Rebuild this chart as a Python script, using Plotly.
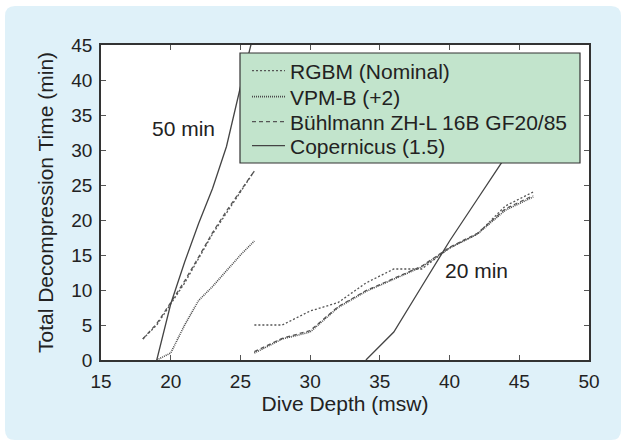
import plotly.graph_objects as go

# ---------------- data ----------------
depth_50 = [18, 19, 20, 21, 22, 23, 24, 25, 26]
depth_20 = [26, 28, 30, 32, 34, 36, 38, 40, 42, 44, 46]

rgbm_50 = [3, 5, 8, 11, 14.5, 18, 21, 24, 27]
vpmb_50 = [None, 0, 1, 5, 8.5, 10.5, 12.7, 15, 17]
buhl_50 = [3, 5.2, 8.2, 11.3, 14.7, 18.2, 21.3, 24.2, 27]
cop_50 = [None, 0, 8, 14, 19.5, 24.5, 30.5, 39, 47]

rgbm_20 = [5, 5, 7, 8.2, 11, 13, 13, 16, 18, 22, 24]
vpmb_20 = [1, 3, 4, 7.5, 9.8, 11.5, 13.3, 16, 18, 21.4, 23.3]
buhl_20 = [1.2, 3.1, 4.2, 7.6, 9.9, 11.6, 13.4, 16.1, 18.1, 21.6, 23.5]
cop_20 = [None, None, None, None, 0, 4, 10.5, 17, 23, 29, 35]

series_names = ["RGBM (Nominal)", "VPM-B (+2)", "Bühlmann ZH-L 16B GF20/85", "Copernicus (1.5)"]
x_ticks = [15, 20, 25, 30, 35, 40, 45, 50]
y_ticks = [0, 5, 10, 15, 20, 25, 30, 35, 40, 45]

labels = ["50 min", "20 min"]
label_x = [20.9, 41.9]
label_y = [33.1, 12.8]

# ---------------- figure ----------------
W, H = 626, 445
ML, MR, MT, MB = 101, 37, 45, 85
PW, PH = W - ML - MR, H - MT - MB

def px2paper_x(px):
    return (px - ML) / PW

def px2paper_y(py):
    return (H - MB - py) / PH

fig = go.Figure()

styles = [
    dict(color="#555555", width=1.3, dash="2px,2px"),
    dict(color="#4a4a4a", width=1.6, dash="1px,1px"),
    dict(color="#555555", width=1.3, dash="4px,3px"),
    dict(color="#444444", width=1.3, dash="solid"),
]
pairs = [(rgbm_50, rgbm_20), (vpmb_50, vpmb_20), (buhl_50, buhl_20), (cop_50, cop_20)]
legend_ids = ["legend", "legend2", "legend3", "legend4"]
legend_centers_px = [71, 97, 122, 146]

for name, (a, b), st, lid in zip(series_names, pairs, styles, legend_ids):
    xs = depth_50 + [None] + depth_20
    ys = a + [None] + b
    fig.add_trace(go.Scatter(
        x=xs, y=ys, mode="lines", name=name, line=st,
        connectgaps=False, legend=lid,
    ))

for t, x, y in zip(labels, label_x, label_y):
    fig.add_annotation(x=x, y=y, text=t, showarrow=False,
                       font=dict(size=21, color="#222222"))

# panel with rounded corners
x0, x1 = px2paper_x(5), px2paper_x(621)
y0, y1 = px2paper_y(440), px2paper_y(6)
rx, ry = 10 / PW, 10 / PH
path = (f"M {x0+rx},{y1} L {x1-rx},{y1} Q {x1},{y1} {x1},{y1-ry} "
        f"L {x1},{y0+ry} Q {x1},{y0} {x1-rx},{y0} L {x0+rx},{y0} "
        f"Q {x0},{y0} {x0},{y0+ry} L {x0},{y1-ry} Q {x0},{y1} {x0+rx},{y1} Z")
fig.add_shape(type="path", path=path, xref="paper", yref="paper",
              fillcolor="#dff1f9", line=dict(width=0), layer="below")
fig.add_shape(type="rect", xref="paper", yref="paper", x0=0, x1=1, y0=0, y1=1,
              fillcolor="white", line=dict(width=0), layer="below")

# legend box
fig.add_shape(type="rect", xref="paper", yref="paper",
              x0=px2paper_x(240), x1=px2paper_x(580),
              y0=px2paper_y(163), y1=px2paper_y(53),
              fillcolor="#c2e4cc", line=dict(color="#333333", width=1.2),
              layer="above")

axis_common = dict(
    showgrid=False, zeroline=False, showline=True, linecolor="#333333",
    linewidth=1.5, mirror="ticks", ticks="inside", ticklen=5,
    tickcolor="#555555", tickfont=dict(size=19, color="#222222"),
    ticklabelstandoff=3,
)

fig.update_xaxes(range=[15, 50], tickvals=x_ticks,
                 title=dict(text="Dive Depth (msw)", font=dict(size=21, color="#222222"), standoff=0),
                 **axis_common)
fig.update_yaxes(range=[0, 45], tickvals=y_ticks,
                 title=dict(text="Total Decompression Time (min)", font=dict(size=21, color="#222222"), standoff=12),
                 **axis_common)

legend_layouts = {}
for lid, cy in zip(legend_ids, legend_centers_px):
    legend_layouts[lid] = dict(
        x=px2paper_x(247), y=px2paper_y(cy - 20.5), xanchor="left", yanchor="top",
        bgcolor="rgba(0,0,0,0)", borderwidth=0,
        font=dict(size=21, color="#222222"),
        itemwidth=33,
    )

fig.update_layout(
    width=W, height=H,
    margin=dict(l=ML, r=MR, t=MT, b=MB, autoexpand=False),
    paper_bgcolor="white", plot_bgcolor="white",
    font=dict(family="Liberation Sans, Arial, sans-serif", color="#222222"),
    showlegend=True,
    **legend_layouts,
)

fig.write_html("out.html")
